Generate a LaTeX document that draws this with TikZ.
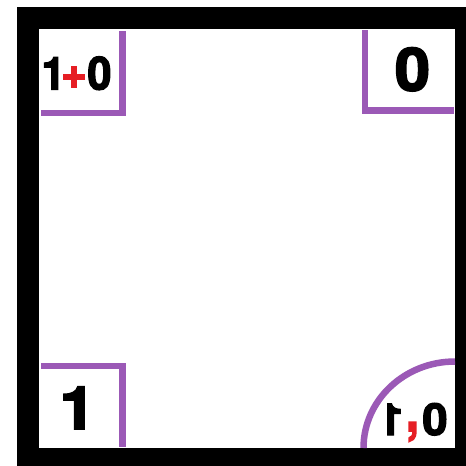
\documentclass[tikz,border=0pt]{standalone}
\usepackage{fontspec}
\usepackage{graphicx}
\newfontfamily\lblfont{TeX Gyre Heros Bold}[FakeBold=3]
\definecolor{lpurple}{RGB}{155,89,182}
\definecolor{lred}{RGB}{230,30,36}
\newcommand\hsc[2]{\scalebox{#1}[1]{#2}}
\tikzset{
  corner/.style={draw=lpurple, line width=6.5pt, line cap=butt, line join=miter},
  lbl/.style={inner sep=0pt, outer sep=0pt, text=black},
}
\begin{document}
\begin{tikzpicture}[x=1pt,y=-1pt]
\useasboundingbox (0,0) rectangle (466,466);
\fill[white] (0,0) rectangle (466,466);
% frame
\fill[black] (17,7) rectangle (466,466);
\fill[white] (39,29) rectangle (455,448);
% purple corner marks
\draw[corner] (41,113) -- (122.5,113) -- (122.5,31);
\draw[corner] (365,30) -- (365,110.3) -- (453.5,110.3);
\draw[corner] (41,366) -- (122.5,366) -- (122.5,447);
\draw[corner] (455,361.5) arc[start angle=-90, end angle=-180, x radius=91.5, y radius=86.5];
% labels
\node[lbl, anchor=base west, font=\fontsize{45.5}{45.5}\lblfont] (tl) at (42,89.5)
  {\makebox[18pt]{\hspace{5pt}\hsc{0.95}{1}}\kern3pt\makebox[22pt]{\raisebox{1.5pt}{\textcolor{lred}{\scalebox{0.97}{+}}}}\kern2pt\makebox[25pt]{\hsc{0.95}{0}}};
\node[lbl, anchor=base, font=\fontsize{59.5}{59.5}\lblfont] (tr) at (412.5,90.6)
  {\hsc{1.06}{0}};
\node[lbl, anchor=base, font=\fontsize{59.5}{59.5}\lblfont] (bl) at (77.5,429)
  {\hsc{1.08}{1}};
\node[lbl, anchor=base west, font=\fontsize{44}{44}\lblfont] (br) at (386,435)
  {\makebox[16pt]{\hspace{-4.4pt}\reflectbox{\hsc{0.92}{1}}}\kern7pt\makebox[7pt]{\raisebox{4pt}{\textcolor{lred}{\scalebox{1.05}[1.37]{,}}}}\kern6pt\makebox[26pt]{\hsc{1.03}{0}}};
\end{tikzpicture}
\end{document}
